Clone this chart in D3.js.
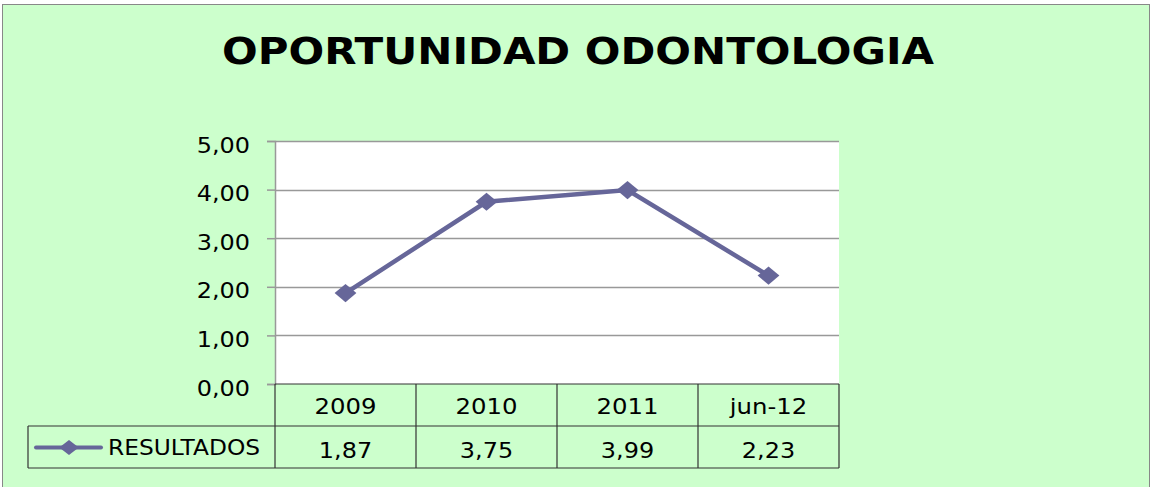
<!DOCTYPE html>
<html>
<head>
<meta charset="utf-8">
<script src="https://cdn.jsdelivr.net/npm/d3@7"></script>
<style>
body { margin: 0; background: #fff; }
svg text { font-family: "DejaVu Sans", Verdana, sans-serif; }
</style>
</head>
<body>
<svg id="chart"></svg>
<script>
var categories = ["2009", "2010", "2011", "jun-12"];
var resultados = [1.87, 3.75, 3.99, 2.23];
var yTicks = [0, 1, 2, 3, 4, 5];
var seriesName = "RESULTADOS";
var title = "OPORTUNIDAD ODONTOLOGIA";

var screen = {width: 1151, height: 487};
var plot = {left: 275, right: 839, top: 141, bottom: 384};
var rowH = 42;
var lineColor = "#666699";
var labelSize = 21;

var fmt = function(v) { return d3.format(".2f")(v).replace(".", ","); };

// stretch text a bit wider, the original font is wide
var widen = function(sel, k) {
    sel.each(function() {
        var w = this.getComputedTextLength();
        d3.select(this)
            .attr("textLength", w * k)
            .attr("lengthAdjust", "spacingAndGlyphs");
    });
};

var svg = d3.select("#chart")
    .attr("width", screen.width)
    .attr("height", screen.height);

svg.append("rect")
    .attr("x", 2.5).attr("y", 4.5)
    .attr("width", screen.width - 4).attr("height", screen.height - 4)
    .attr("fill", "#CCFFCC")
    .attr("stroke", "#888")
    .attr("stroke-width", 1);

svg.append("text")
    .text(title)
    .attr("x", 578).attr("y", 64)
    .attr("text-anchor", "middle")
    .attr("font-weight", "bold")
    .attr("font-size", 37)
    .attr("textLength", 712)
    .attr("lengthAdjust", "spacingAndGlyphs")
    .attr("fill", "#000");

var xScale = d3.scaleBand()
    .domain(categories)
    .range([plot.left, plot.right]);

var yScale = d3.scaleLinear()
    .domain([0, 5])
    .range([plot.bottom, plot.top]);

svg.append("rect")
    .attr("x", plot.left).attr("y", plot.top)
    .attr("width", plot.right - plot.left).attr("height", plot.bottom - plot.top)
    .attr("fill", "#fff");

// gridlines
svg.append("g")
    .selectAll("line")
    .data(yTicks.slice(1))
    .enter()
    .append("line")
    .attr("x1", plot.left).attr("x2", plot.right)
    .attr("y1", function(d) { return Math.round(yScale(d)) + 0.5; })
    .attr("y2", function(d) { return Math.round(yScale(d)) + 0.5; })
    .attr("stroke", "#999")
    .attr("stroke-width", 1.5);

// y axis
var yAxis = d3.axisLeft(yScale)
    .tickValues(yTicks)
    .tickFormat(fmt)
    .tickSize(8)
    .tickPadding(17);

var yG = svg.append("g")
    .attr("transform", "translate(" + plot.left + ",0)")
    .call(yAxis);
yG.select(".domain").attr("stroke", "#999").attr("stroke-width", 1.5);
yG.selectAll(".tick line").attr("stroke", "#999").attr("stroke-width", 1.5);
yG.selectAll(".tick text")
    .attr("font-size", labelSize)
    .attr("font-family", "DejaVu Sans, sans-serif")
    .attr("fill", "#000")
    .attr("dy", "11")
    .call(widen, 1.14);

// data table
var table = svg.append("g").attr("fill", "none").attr("stroke", "#333").attr("stroke-width", 1.2);
var tableLeft = 28;
table.append("line")
    .attr("x1", plot.left).attr("x2", plot.right)
    .attr("y1", plot.bottom).attr("y2", plot.bottom);
table.append("line")
    .attr("x1", tableLeft).attr("x2", plot.right)
    .attr("y1", plot.bottom + rowH).attr("y2", plot.bottom + rowH);
table.append("line")
    .attr("x1", tableLeft).attr("x2", plot.right)
    .attr("y1", plot.bottom + 2 * rowH).attr("y2", plot.bottom + 2 * rowH);
table.append("line")
    .attr("x1", tableLeft).attr("x2", tableLeft)
    .attr("y1", plot.bottom + rowH).attr("y2", plot.bottom + 2 * rowH);
table.selectAll("line.col")
    .data(categories.concat(["end"]))
    .enter()
    .append("line")
    .attr("class", "col")
    .attr("x1", function(d, i) { return i < categories.length ? xScale(d) : plot.right; })
    .attr("x2", function(d, i) { return i < categories.length ? xScale(d) : plot.right; })
    .attr("y1", plot.bottom).attr("y2", plot.bottom + 2 * rowH);

svg.append("g")
    .selectAll("text")
    .data(categories)
    .enter()
    .append("text")
    .text(function(d) { return d; })
    .attr("x", function(d) { return xScale(d) + xScale.bandwidth() / 2; })
    .attr("y", plot.bottom + 30)
    .attr("text-anchor", "middle")
    .attr("font-size", labelSize)
    .attr("fill", "#000")
    .call(widen, 1.16);

svg.append("g")
    .selectAll("text")
    .data(resultados)
    .enter()
    .append("text")
    .text(function(d) { return fmt(d); })
    .attr("x", function(d, i) { return xScale(categories[i]) + xScale.bandwidth() / 2; })
    .attr("y", plot.bottom + rowH + 32)
    .attr("text-anchor", "middle")
    .attr("font-size", labelSize)
    .attr("fill", "#000")
    .call(widen, 1.14);

// legend key in table
var legY = plot.bottom + rowH * 1.5 + 0.5;
svg.append("line")
    .attr("x1", 36).attr("x2", 101)
    .attr("y1", legY).attr("y2", legY)
    .attr("stroke", lineColor).attr("stroke-width", 4)
    .attr("stroke-linecap", "round");
svg.append("path")
    .attr("d", d3.symbol().type(d3.symbolDiamond2).size(200))
    .attr("transform", "translate(69," + legY + ") scale(1.1,0.85)")
    .attr("fill", lineColor);
svg.append("text")
    .text(seriesName)
    .attr("x", 108).attr("y", legY + 7.5)
    .attr("font-size", labelSize)
    .attr("fill", "#000")
    .call(widen, 1.11);

// series line
var line = d3.line()
    .x(function(d, i) { return xScale(categories[i]) + xScale.bandwidth() / 2; })
    .y(function(d) { return yScale(d); });

svg.append("path")
    .datum(resultados)
    .attr("d", line)
    .attr("fill", "none")
    .attr("stroke", lineColor)
    .attr("stroke-width", 4.5);

svg.append("g")
    .selectAll("path")
    .data(resultados)
    .enter()
    .append("path")
    .attr("d", d3.symbol().type(d3.symbolDiamond2).size(260))
    .attr("transform", function(d, i) {
        return "translate(" + (xScale(categories[i]) + xScale.bandwidth() / 2) + "," + yScale(d) + ") scale(1.08,0.9)";
    })
    .attr("fill", lineColor);
</script>
</body>
</html>
